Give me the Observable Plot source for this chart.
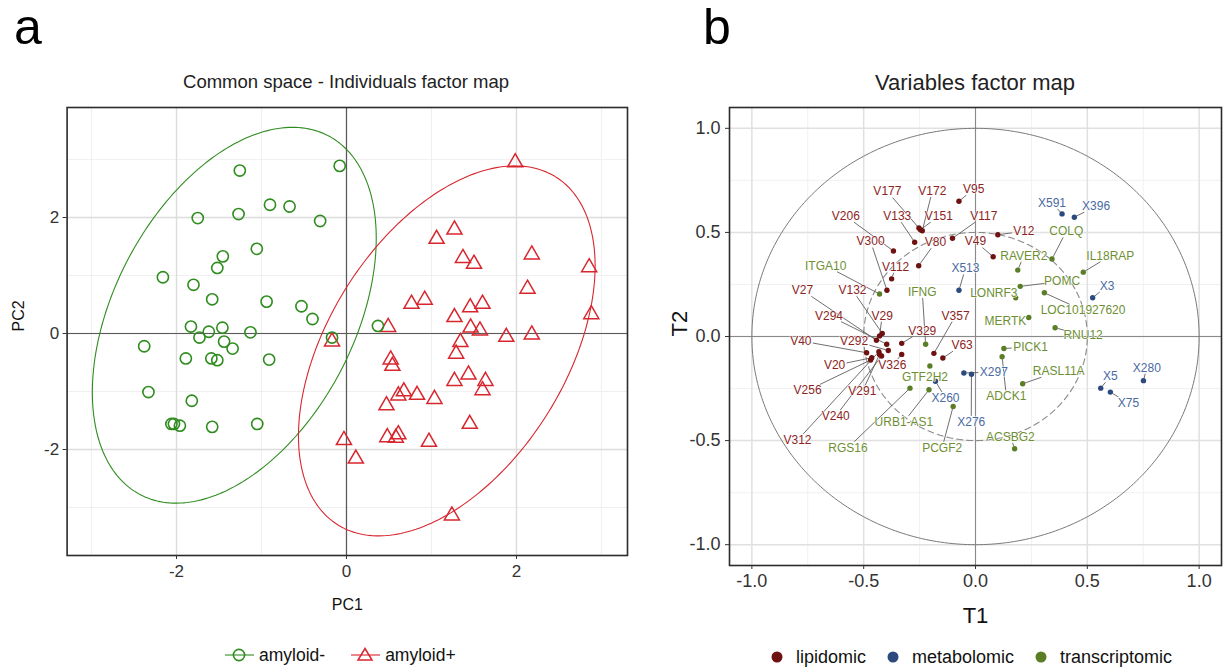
<!DOCTYPE html>
<html><head><meta charset="utf-8">
<script src="https://cdn.jsdelivr.net/npm/d3@7"></script>
<script src="https://cdn.jsdelivr.net/npm/@observablehq/plot@0.6"></script>
<style>
body{margin:0;background:#fff;width:1224px;height:669px;overflow:hidden;font-family:"Liberation Sans",Arial,sans-serif;position:relative}
.abs{position:absolute;white-space:nowrap}
.panel{position:absolute;top:0}
.letter{position:absolute;font-size:50px;line-height:1.1;color:#000}
.ttl{position:absolute;transform:translate(-50%,-50%);color:#222;white-space:nowrap}
.leg{position:absolute;display:flex;align-items:center;color:#111}
.leg span{margin-right:4px}
</style></head><body>
<div id="pa" class="panel" style="left:0"></div>
<div id="pb" class="panel" style="left:640px"></div>
<div class="letter" style="left:14px;top:0px">a</div>
<div class="letter" style="left:703px;top:0px">b</div>
<div class="ttl" style="left:346px;top:82px;font-size:18.5px">Common space - Individuals factor map</div>
<div class="ttl" style="left:975px;top:83px;font-size:22px">Variables factor map</div>
<div id="legA" class="leg" style="left:225px;top:643px;font-size:17.5px"></div>
<div id="legB" class="leg" style="left:770px;top:645px;font-size:18px"></div>
<script>
// ---------- Panel a : individuals ----------
const negPC1 = [-1.255,-0.08,-1.75,-1.27,-0.90,-0.67,-0.31,-1.055,-1.455,-1.52,-2.16,-1.80,-1.58,-0.94,-0.53,-0.40,-1.83,-1.46,-1.62,-1.73,-1.13,-0.17,-1.44,-2.38,-1.34,-1.89,-1.59,-1.52,-0.91,-2.33,-1.82,-2.06,-2.03,-1.96,-1.58,-1.05,0.37];
const negPC2 = [2.81,2.89,1.99,2.06,2.22,2.19,1.94,1.46,1.33,1.13,0.97,0.84,0.59,0.55,0.47,0.25,0.12,0.10,0.03,-0.07,0.02,-0.07,-0.14,-0.22,-0.26,-0.43,-0.43,-0.46,-0.45,-1.01,-1.16,-1.56,-1.56,-1.59,-1.61,-1.56,0.13];
const posPC1 = [1.985,1.27,1.06,1.37,1.50,2.18,2.855,2.13,0.765,0.92,1.455,1.60,1.27,2.88,0.49,1.46,1.57,1.88,2.18,-0.17,1.34,1.29,0.52,0.54,1.27,1.435,1.635,1.60,0.675,0.61,0.83,1.035,0.47,1.45,0.48,0.61,0.58,0.97,-0.03,0.11,1.24];
const posPC2 = [2.95,1.79,1.63,1.30,1.20,1.36,1.14,0.77,0.51,0.58,0.45,0.51,0.28,0.33,0.11,0.10,0.05,-0.06,-0.02,-0.14,-0.15,-0.35,-0.45,-0.56,-0.82,-0.71,-0.82,-0.98,-1.00,-1.07,-1.06,-1.13,-1.24,-1.56,-1.79,-1.74,-1.80,-1.87,-1.84,-2.16,-3.14];
const groups = ["amyloid-","amyloid+"];
const ellipseCx = [-1.32, 1.18];
const ellipseCy = [0.315, -0.30];
const ellipseRx = [1.67, 1.745];
const ellipseRy = [3.24, 3.19];
const ellipseCos = [0.41, 0.46];
const aTicks = [-2, 0, 2];
const aMinor = [-3, -1, 1, 3];

// ---------- Panel b : variables ----------
const varNames = ["V177","V172","V95","V206","V133","V151","V117","V300","V80","V49","V12","V112","V27","V132","V294","V29","V40","V292","V329","V357","V63","V20","V326","V256","V291","V240","V312",
 "X591","X396","X513","X3","X297","X276","X260","X5","X75","X280",
 "ITGA10","IFNG","GTF2H2","URB1-AS1","RGS16","PCGF2","ACSBG2","ADCK1","PICK1","RASL11A","MERTK","RNU12","LOC101927620","LONRF3","POMC","RAVER2","COLQ","IL18RAP"];
const varBlock = ["lipidomic","lipidomic","lipidomic","lipidomic","lipidomic","lipidomic","lipidomic","lipidomic","lipidomic","lipidomic","lipidomic","lipidomic","lipidomic","lipidomic","lipidomic","lipidomic","lipidomic","lipidomic","lipidomic","lipidomic","lipidomic","lipidomic","lipidomic","lipidomic","lipidomic","lipidomic","lipidomic",
 "metabolomic","metabolomic","metabolomic","metabolomic","metabolomic","metabolomic","metabolomic","metabolomic","metabolomic","metabolomic",
 "transcriptomic","transcriptomic","transcriptomic","transcriptomic","transcriptomic","transcriptomic","transcriptomic","transcriptomic","transcriptomic","transcriptomic","transcriptomic","transcriptomic","transcriptomic","transcriptomic","transcriptomic","transcriptomic","transcriptomic","transcriptomic"];
const varT1 = [-0.253,-0.238,-0.074,-0.367,-0.272,-0.246,-0.103,-0.396,-0.254,0.079,0.100,-0.375,-0.443,-0.417,-0.397,-0.429,-0.487,-0.390,-0.330,-0.186,-0.146,-0.464,-0.330,-0.469,-0.429,-0.420,-0.432,
 0.387,0.442,-0.074,0.524,-0.052,-0.018,-0.179,0.560,0.603,0.751,
 -0.429,-0.223,-0.204,-0.208,-0.293,-0.100,0.175,0.119,0.127,0.211,0.238,0.356,0.308,0.180,0.200,0.189,0.342,0.482];
const varT2 = [0.521,0.508,0.650,0.411,0.453,0.513,0.472,0.222,0.340,0.383,0.489,0.277,-0.018,0.015,-0.037,0.003,-0.078,-0.067,-0.033,-0.081,-0.103,-0.102,-0.086,-0.113,-0.086,-0.094,-0.073,
 0.589,0.573,0.222,0.186,-0.175,-0.181,-0.215,-0.248,-0.267,-0.212,
 0.204,-0.037,-0.142,-0.256,-0.248,-0.336,-0.539,-0.097,-0.058,-0.227,0.091,0.042,0.210,0.186,0.241,0.319,0.372,0.309];
// repelled label anchors (data units)
const labT1 = [-0.394,-0.193,-0.008,-0.580,-0.350,-0.164,0.037,-0.469,-0.179,0.000,0.216,-0.357,-0.774,-0.550,-0.655,-0.417,-0.781,-0.543,-0.238,-0.089,-0.060,-0.630,-0.372,-0.751,-0.506,-0.625,-0.796,
 0.342,0.539,-0.045,0.588,0.082,-0.019,-0.134,0.603,0.684,0.766,
 -0.670,-0.238,-0.226,-0.320,-0.570,-0.149,0.156,0.138,0.246,0.372,0.134,0.481,0.481,0.082,0.387,0.216,0.406,0.603];
const labT2 = [0.696,0.699,0.707,0.578,0.578,0.578,0.578,0.456,0.453,0.456,0.505,0.335,0.222,0.222,0.100,0.100,-0.021,-0.021,0.028,0.100,-0.042,-0.139,-0.138,-0.259,-0.264,-0.382,-0.498,
 0.642,0.626,0.327,0.243,-0.171,-0.410,-0.296,-0.191,-0.320,-0.150,
 0.340,0.214,-0.196,-0.410,-0.534,-0.534,-0.482,-0.288,-0.049,-0.167,0.076,0.006,0.125,0.210,0.265,0.388,0.505,0.388];
const blocks = ["lipidomic","metabolomic","transcriptomic"];
const circleR = [1, 0.5];
const bMajor = [-1, -0.5, 0, 0.5, 1];
const bMinor = [-0.75, -0.25, 0.25, 0.75];

// ---------- styles ----------
const groupColor = ["#2f8c1f", "#d8262e"];
const dotColor = ["#6e1111", "#2d4a7e", "#5a7e26"];
const textColor = ["#8c2424", "#4a6aa3", "#6e8f33"];
const font = "Liberation Sans, Arial, sans-serif";

// ====== Panel a ======
const negData = negPC1.map((x,i)=>({x, y:negPC2[i]}));
const posData = posPC1.map((x,i)=>({x, y:posPC2[i]}));
const ell = [];
groups.forEach((g,i)=>{
  const phi = Math.acos(ellipseCos[i]);
  for (let k=0;k<=240;k++){
    const t = 2*Math.PI*k/240;
    ell.push({g, x: ellipseCx[i]+ellipseRx[i]*Math.cos(t), y: ellipseCy[i]+ellipseRy[i]*Math.cos(t-phi)});
  }
});
const A = {w:640, h:630, ml:66.6, mr:13, mt:107, mb:75};
const plotA = Plot.plot({
  width:A.w, height:A.h, marginLeft:A.ml, marginRight:A.mr, marginTop:A.mt, marginBottom:A.mb,
  style:{fontFamily:font, background:"#fff", overflow:"visible"},
  x:{domain:[-3.287,3.306]}, y:{domain:[-3.828,3.897]},
  marks:[
    Plot.gridX(aMinor,{stroke:"#ececec", strokeOpacity:1, strokeWidth:0.8}),
    Plot.gridY(aMinor,{stroke:"#ececec", strokeOpacity:1, strokeWidth:0.8}),
    Plot.gridX(aTicks,{stroke:"#dcdcdc", strokeOpacity:1, strokeWidth:1.4}),
    Plot.gridY(aTicks,{stroke:"#dcdcdc", strokeOpacity:1, strokeWidth:1.4}),
    Plot.ruleX([0],{stroke:"#5a5a5a", strokeWidth:1.2}),
    Plot.ruleY([0],{stroke:"#5a5a5a", strokeWidth:1.2}),
    Plot.line(ell,{x:"x", y:"y", z:"g", stroke:d=>groupColor[groups.indexOf(d.g)], strokeWidth:1.1, curve:"linear"}),
    Plot.dot(posData,{x:"x", y:"y", symbol:"triangle", r:5.6, stroke:groupColor[1], strokeWidth:1.5, fill:"none"}),
    Plot.dot(negData,{x:"x", y:"y", symbol:"circle", r:5.6, stroke:groupColor[0], strokeWidth:1.6, fill:"none"}),
    Plot.frame({stroke:"#2b2b2b", strokeWidth:1.6}),
    Plot.axisX(aTicks,{tickSize:4, tickPadding:5, fontSize:17, color:"#333", tickFormat:d=>String(d), label:null}),
    Plot.axisY(aTicks,{tickSize:4, tickPadding:4, fontSize:17, color:"#333", tickFormat:d=>String(d), label:null}),
    Plot.text(["PC1"],{frameAnchor:"bottom", dy:54, fontSize:16, fill:"#111", text:d=>d}),
    Plot.text(["PC2"],{frameAnchor:"left", dx:-48, rotate:-90, fontSize:16, fill:"#111", text:d=>d})
  ]
});
document.getElementById("pa").appendChild(plotA);

// ====== Panel b ======
const B = {w:584, h:640, ml:89, mr:3, mt:107, mb:75};
const ux = (B.w-B.ml-B.mr)/2.2, uy = (B.h-B.mt-B.mb)/2.2, fs = 12;
const vars = varNames.map((n,i)=>({name:n, block:varBlock[i], x:varT1[i], y:varT2[i], lx:labT1[i], ly:labT2[i]}));
const segs = [];
vars.forEach(r=>{
  const dxp = (r.x-r.lx)*ux, dyp = (r.y-r.ly)*uy;
  const hw = r.name.length*fs*0.29+1.5, hh = fs*0.5;
  const s = Math.min(hw/Math.max(Math.abs(dxp),1e-9), hh/Math.max(Math.abs(dyp),1e-9));
  const len = Math.hypot(dxp,dyp);
  if (s < 1 && len*(1-s) > 6) {
    const e = Math.max(0, 1 - 2.5/len);
    segs.push({x1:r.lx+(r.x-r.lx)*s, y1:r.ly+(r.y-r.ly)*s, x2:r.lx+(r.x-r.lx)*e, y2:r.ly+(r.y-r.ly)*e});
  }
});
const circ = [];
circleR.forEach((R,i)=>{ for(let k=0;k<=360;k++){const t=2*Math.PI*k/360; circ.push({i, x:R*Math.cos(t), y:R*Math.sin(t)});} });
const plotB = Plot.plot({
  width:B.w, height:B.h, marginLeft:B.ml, marginRight:B.mr, marginTop:B.mt, marginBottom:B.mb,
  style:{fontFamily:font, background:"#fff", overflow:"visible"},
  x:{domain:[-1.1,1.1]}, y:{domain:[-1.1,1.1]},
  marks:[
    Plot.gridX(bMinor,{stroke:"#efefef", strokeOpacity:1, strokeWidth:0.9}),
    Plot.gridY(bMinor,{stroke:"#efefef", strokeOpacity:1, strokeWidth:0.9}),
    Plot.gridX(bMajor,{stroke:"#e0e0e0", strokeOpacity:1, strokeWidth:1.5}),
    Plot.gridY(bMajor,{stroke:"#e0e0e0", strokeOpacity:1, strokeWidth:1.5}),
    Plot.ruleX([0],{stroke:"#8a8a8a", strokeWidth:1}),
    Plot.ruleY([0],{stroke:"#8a8a8a", strokeWidth:1}),
    Plot.line(circ.filter(d=>d.i===0),{x:"x", y:"y", stroke:"#7a7a7a", strokeWidth:1}),
    Plot.line(circ.filter(d=>d.i===1),{x:"x", y:"y", stroke:"#8a8a8a", strokeWidth:1.1, strokeDasharray:"6,4"}),
    Plot.link(segs,{x1:"x1", y1:"y1", x2:"x2", y2:"y2", stroke:"#5f5f5f", strokeWidth:0.9}),
    Plot.dot(vars,{x:"x", y:"y", r:2.7, fill:d=>dotColor[blocks.indexOf(d.block)], stroke:"none"}),
    Plot.text(vars,{x:"lx", y:"ly", text:"name", fontSize:fs, fill:d=>textColor[blocks.indexOf(d.block)], stroke:"white", strokeWidth:1.2, paintOrder:"stroke"}),
    Plot.frame({stroke:"#2b2b2b", strokeWidth:1.6}),
    Plot.axisX(bMajor,{tickSize:4, tickPadding:5, fontSize:18, color:"#333", tickFormat:d=>d.toFixed(1), label:null}),
    Plot.axisY(bMajor,{tickSize:4, tickPadding:5, fontSize:18, color:"#333", tickFormat:d=>d.toFixed(1), label:null}),
    Plot.text(["T1"],{frameAnchor:"bottom", dy:57, fontSize:22, fill:"#111", text:d=>d}),
    Plot.text(["T2"],{frameAnchor:"left", dx:-50, rotate:-90, fontSize:22, fill:"#111", text:d=>d})
  ]
});
document.getElementById("pb").appendChild(plotB);

// ====== Legends ======
const legA = document.getElementById("legA");
groups.forEach((g,i)=>{
  const sym = i===0
    ? `<circle cx="14" cy="12" r="5.6" fill="none" stroke="${groupColor[0]}" stroke-width="1.6"/>`
    : `<path d="M14,5.5 L21,17 L7,17 Z" fill="none" stroke="${groupColor[1]}" stroke-width="1.5"/>`;
  legA.insertAdjacentHTML("beforeend",
    `<svg width="29" height="24" style="margin-right:5px"><line x1="0" x2="29" y1="12" y2="12" stroke="${groupColor[i]}" stroke-width="1.1"/>${sym}</svg><span style="margin-right:${i===0?26:0}px">${g}</span>`);
});
const legB = document.getElementById("legB");
blocks.forEach((b,i)=>{
  legB.insertAdjacentHTML("beforeend",
    `<svg width="14" height="24" style="margin-right:12px"><circle cx="7" cy="12" r="5.5" fill="${dotColor[i]}"/></svg><span style="margin-right:${i<2?20:0}px">${b}</span>`);
});
</script>
</body></html>
